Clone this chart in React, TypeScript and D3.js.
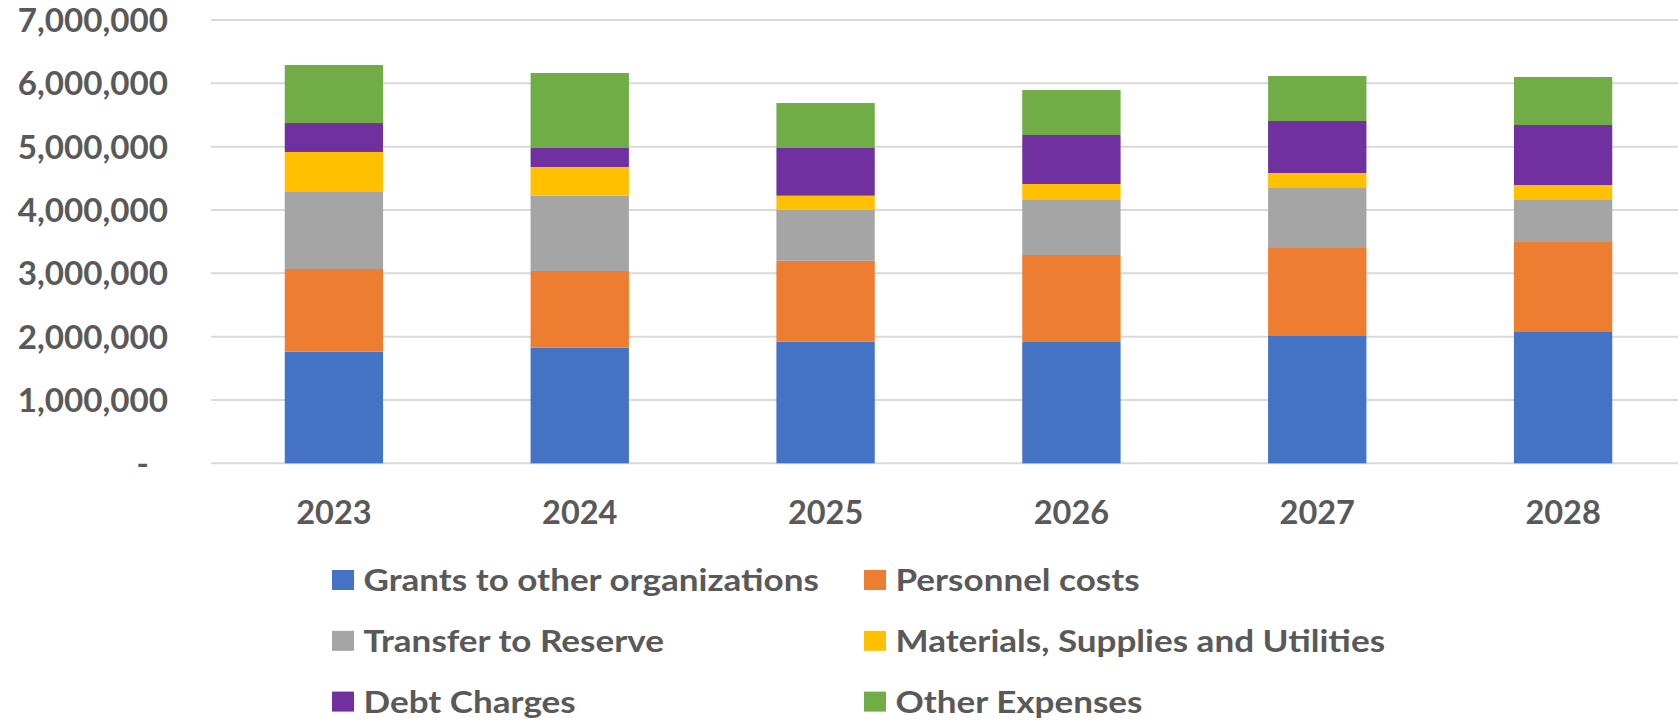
import React from "react";
import * as d3 from "d3";

const years = ["2023", "2024", "2025", "2026", "2027", "2028"];
const seriesNames = [
  "Grants to other organizations",
  "Personnel costs",
  "Transfer to Reserve",
  "Materials, Supplies and Utilities",
  "Debt Charges",
  "Other Expenses",
];
const grants = [1762000, 1825000, 1920000, 1915000, 2010000, 2073000];
const personnel = [1306000, 1212000, 1279000, 1374000, 1390000, 1421000];
const reserve = [1216000, 1189000, 805000, 869000, 947000, 664000];
const materials = [632000, 453000, 222000, 252000, 237000, 236000];
const debt = [457000, 300000, 753000, 774000, 821000, 948000];
const other = [916000, 1184000, 710000, 711000, 711000, 758000];
const yTicks = [0, 1000000, 2000000, 3000000, 4000000, 5000000, 6000000, 7000000];
const colors = ["#4472C4", "#ED7D31", "#A5A5A5", "#FFC000", "#7030A0", "#70AD47"];

const W = 1678;
const H = 724;
const TEXT = "#595959";
const FONT = "Lato, 'Open Sans', sans-serif";

export default function App() {
  const seriesValues = [grants, personnel, reserve, materials, debt, other];
  const rows = years.map((y, i) => {
    const r: any = { year: y };
    seriesNames.forEach((s, j) => (r[s] = seriesValues[j][i]));
    return r;
  });
  const stacked = d3.stack().keys(seriesNames)(rows);

  const x = d3.scaleBand().domain(years).range([211, 1686]).paddingInner(0.6).paddingOuter(0.3);
  const y = d3.scaleLinear().domain([0, 7000000]).range([463.3, 20]);
  const fmt = (v: number) => (v === 0 ? "-" : d3.format(",")(v));

  const legendCols = [332, 864];
  const legendRows = [580, 640.8, 701.6];

  return (
    <svg width={W} height={H} style={{ position: "absolute", left: 0, top: 0, background: "#fff" }}>
      <rect x={0} y={0} width={W} height={H} fill="#fff" />
      {yTicks.map((t) => (
        <line key={"g" + t} x1={211} x2={W} y1={y(t)} y2={y(t)} stroke="#d9d9d9" strokeWidth={2} />
      ))}
      {yTicks.map((t) => (
        <text
          key={"t" + t}
          x={t === 0 ? 149 : 168}
          y={y(t)}
          dy="0.36em"
          textAnchor="end"
          fontFamily={FONT}
          fontWeight={700}
          fontSize={33.2}
          fill={TEXT}
        >
          {fmt(t)}
        </text>
      ))}
      {stacked.map((layer, si) => (
        <g key={layer.key} fill={colors[si]}>
          {layer.map((d, i) => (
            <rect
              key={i}
              x={x(years[i])}
              width={x.bandwidth()}
              y={y(d[1])}
              height={y(d[0]) - y(d[1])}
            />
          ))}
        </g>
      ))}
      {years.map((yr) => (
        <text
          key={yr}
          x={(x(yr) as number) + x.bandwidth() / 2}
          y={524}
          textAnchor="middle"
          fontFamily={FONT}
          fontWeight={700}
          fontSize={32.5}
          fill={TEXT}
        >
          {yr}
        </text>
      ))}
      {seriesNames.map((s, i) => {
        const col = i % 2;
        const row = Math.floor(i / 2);
        const lx = legendCols[col];
        const ly = legendRows[row];
        return (
          <g key={s}>
            <rect x={lx} y={ly - 10} width={22} height={20} fill={colors[i]} />
            <text
              transform={`translate(${lx + 31.5},${ly + 11}) scale(1.12,1)`}
              fontFamily={FONT}
              fontWeight={700}
              fontSize={31.3}
              fill={TEXT}
            >
              {s}
            </text>
          </g>
        );
      })}
    </svg>
  );
}
